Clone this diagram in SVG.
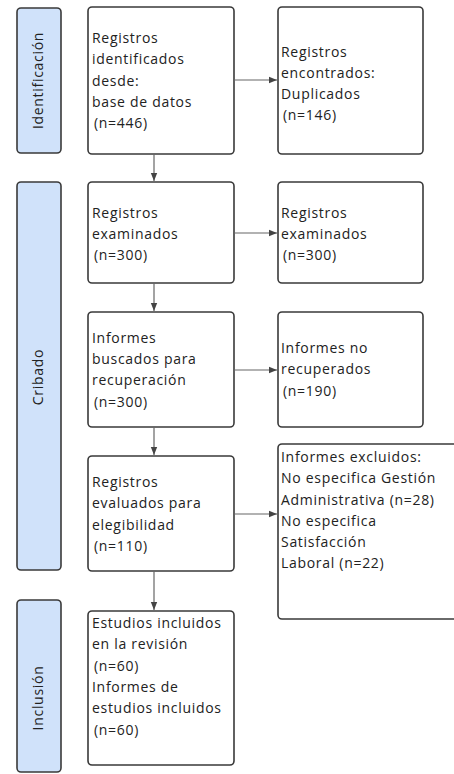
<svg xmlns="http://www.w3.org/2000/svg" width="454" height="774" viewBox="0 0 454 774">
<defs>
<style>
.box{fill:#fff;stroke:#3a3a3a;stroke-width:1.6}
.lab{fill:#d0e2fa;stroke:#3a3a3a;stroke-width:1.6}
.t{font-family:"Open Sans","DejaVu Sans",sans-serif;font-size:14px;letter-spacing:0.7px;fill:#222}
.conn{stroke:#666;stroke-width:1.2;fill:none;marker-end:url(#ah)}
</style>
<marker id="ah" viewBox="0 0 10 10" refX="10" refY="5" markerWidth="8" markerHeight="8" markerUnits="userSpaceOnUse" orient="auto">
<path d="M0,1 L10,5 L0,9 Z" fill="#444"/>
</marker>
</defs>
<rect width="454" height="774" fill="#fff"/>
<g id="lab-identificacion">
<rect class="lab" x="17" y="8" width="44" height="145" rx="4"/>
<text class="t" transform="translate(43,80.5) rotate(-90)" text-anchor="middle">Identificación</text>
</g>
<g id="lab-cribado">
<rect class="lab" x="17" y="182" width="44" height="388" rx="4"/>
<text class="t" transform="translate(43,377) rotate(-90)" text-anchor="middle">Cribado</text>
</g>
<g id="lab-inclusion">
<rect class="lab" x="17" y="600" width="44" height="172" rx="4"/>
<text class="t" transform="translate(43,698) rotate(-90)" text-anchor="middle">Inclusión</text>
</g>
<g id="n1">
<rect class="box" x="88" y="7" width="146" height="147" rx="4"/>
<text class="t"><tspan x="92" y="43">Registros</tspan><tspan x="92" y="64">identificados</tspan><tspan x="92" y="85.5">desde:</tspan><tspan x="92" y="107">base de datos</tspan><tspan x="94" y="128">(n=446)</tspan></text>
</g>
<g id="n2">
<rect class="box" x="278" y="7" width="145" height="147" rx="4"/>
<text class="t"><tspan x="281" y="57">Registros</tspan><tspan x="281" y="78">encontrados:</tspan><tspan x="281" y="99">Duplicados</tspan><tspan x="283" y="120">(n=146)</tspan></text>
</g>
<g id="n3">
<rect class="box" x="88" y="182" width="146" height="101" rx="4"/>
<text class="t"><tspan x="92" y="218">Registros</tspan><tspan x="92" y="238.5">examinados</tspan><tspan x="94" y="260">(n=300)</tspan></text>
</g>
<g id="n4">
<rect class="box" x="278" y="182" width="145" height="101" rx="4"/>
<text class="t"><tspan x="281" y="218">Registros</tspan><tspan x="281" y="238.5">examinados</tspan><tspan x="283" y="260">(n=300)</tspan></text>
</g>
<g id="n5">
<rect class="box" x="88" y="312" width="146" height="115" rx="4"/>
<text class="t"><tspan x="92" y="343">Informes</tspan><tspan x="92" y="364">buscados para</tspan><tspan x="92" y="385">recuperación</tspan><tspan x="94" y="407">(n=300)</tspan></text>
</g>
<g id="n6">
<rect class="box" x="278" y="312" width="145" height="115" rx="4"/>
<text class="t"><tspan x="281" y="353">Informes no</tspan><tspan x="281" y="374">recuperados</tspan><tspan x="283" y="396">(n=190)</tspan></text>
</g>
<g id="n7">
<rect class="box" x="88" y="456" width="146" height="115" rx="4"/>
<text class="t"><tspan x="92" y="487">Registros</tspan><tspan x="92" y="508">evaluados para</tspan><tspan x="92" y="530">elegibilidad</tspan><tspan x="94" y="551">(n=110)</tspan></text>
</g>
<g id="n8">
<rect class="box" x="278" y="444" width="190" height="175" rx="4"/>
<text class="t"><tspan x="281" y="462">Informes excluidos:</tspan><tspan x="281" y="483">No especifica Gestión</tspan><tspan x="281" y="505">Administrativa (n=28)</tspan><tspan x="281" y="526">No especifica</tspan><tspan x="281" y="547">Satisfacción</tspan><tspan x="281" y="568">Laboral (n=22)</tspan></text>
</g>
<g id="n9">
<rect class="box" x="88" y="611" width="146" height="154" rx="4"/>
<text class="t"><tspan x="92" y="628">Estudios incluidos</tspan><tspan x="92" y="649">en la revisión</tspan><tspan x="94" y="671">(n=60)</tspan><tspan x="92" y="692">Informes de</tspan><tspan x="92" y="713">estudios incluidos</tspan><tspan x="94" y="735">(n=60)</tspan></text>
</g>
<g id="connectors">
<line class="conn" x1="234" y1="80" x2="277" y2="80"/>
<line class="conn" x1="154" y1="154" x2="154" y2="181"/>
<line class="conn" x1="234" y1="233" x2="277" y2="233"/>
<line class="conn" x1="154" y1="283" x2="154" y2="311"/>
<line class="conn" x1="234" y1="370" x2="277" y2="370"/>
<line class="conn" x1="154" y1="427" x2="154" y2="455"/>
<line class="conn" x1="234" y1="514" x2="277" y2="514"/>
<line class="conn" x1="154" y1="571" x2="154" y2="610"/>
</g>
</svg>
